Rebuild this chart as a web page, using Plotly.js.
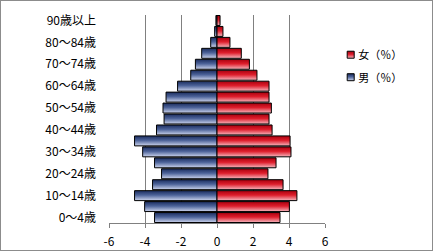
<!DOCTYPE html>
<html>
<head>
<meta charset="utf-8">
<script src="https://cdn.plot.ly/plotly-3.0.1.min.js"></script>
<style>
  html, body { margin: 0; padding: 0; background: #fff; }
  #wrap { position: relative; width: 433px; height: 252px; }
  #chart { width: 433px; height: 252px; }
  #frame { position: absolute; left: 0; top: 0; width: 433px; height: 251px; box-sizing: border-box; border: 1px solid #8c8c8c; pointer-events: none; }
</style>
</head>
<body>
<div id="wrap"><div id="chart"></div><div id="frame"></div></div>
<script>
// Age groups (bottom to top)
const ageGroups = ["0～4歳","5～9歳","10～14歳","15～19歳","20～24歳","25～29歳","30～34歳","35～39歳","40～44歳","45～49歳","50～54歳","55～59歳","60～64歳","65～69歳","70～74歳","75～79歳","80～84歳","85～89歳","90歳以上"];
// Shown y tick labels
const shownAgeLabels = ["0～4歳","10～14歳","20～24歳","30～34歳","40～44歳","50～54歳","60～64歳","70～74歳","80～84歳","90歳以上"];
// Male share (%), drawn to the left
const malePct = [3.47, 4.02, 4.58, 3.58, 3.08, 3.47, 4.13, 4.58, 3.36, 2.94, 3.00, 2.83, 2.19, 1.46, 1.20, 0.85, 0.35, 0.13, 0.06];
// Female share (%), drawn to the right
const femalePct = [3.50, 4.02, 4.44, 3.67, 2.83, 3.28, 4.11, 4.06, 3.06, 2.89, 3.02, 2.89, 2.89, 2.22, 1.80, 1.35, 0.72, 0.33, 0.17];
// X axis ticks
const xTickVals = [-6, -4, -2, 0, 2, 4, 6];
const xTickText = ["-6", "-4", "-2", "0", "2", "4", "6"];
const seriesNames = ["男（％）", "女（％）"];

const font = "'Noto Sans CJK JP', 'Noto Sans', sans-serif";

const traces = [
  {
    type: "bar", orientation: "h", name: seriesNames[0],
    y: ageGroups, x: malePct.map(v => -v),
    marker: { color: "#5a6fa3", line: { color: "#000", width: 1 } },
    hoverinfo: "skip"
  },
  {
    type: "bar", orientation: "h", name: seriesNames[1],
    y: ageGroups, x: femalePct,
    marker: { color: "#e0404c", line: { color: "#000", width: 1 } },
    hoverinfo: "skip"
  }
];

const layout = {
  width: 433, height: 252,
  margin: { l: 108.5, r: 107.7, t: 15, b: 28.7, autoexpand: false },
  paper_bgcolor: "#fff", plot_bgcolor: "#fff",
  barmode: "overlay",
  bargap: 0.09,
  showlegend: true,
  font: { family: font, size: 12, color: "#000" },
  legend: {
    x: 0.954, y: 0.9, xanchor: "left", yanchor: "top",
    traceorder: "reversed",
    font: { family: font, size: 11, color: "#000" },
    itemwidth: 30,
    bgcolor: "rgba(0,0,0,0)"
  },
  xaxis: {
    range: [-6, 6], tickmode: "array", tickvals: xTickVals, ticktext: xTickText,
    showgrid: true, gridcolor: "#808080", gridwidth: 1,
    zeroline: true, zerolinecolor: "#808080", zerolinewidth: 1,
    showline: true, linecolor: "#808080", linewidth: 1,
    ticks: "outside", ticklen: 4, tickcolor: "#808080",
    ticklabelstandoff: 4,
    tickfont: { family: font, size: 12, color: "#000" },
    fixedrange: true
  },
  yaxis: {
    type: "category", categoryorder: "array", categoryarray: ageGroups,
    tickmode: "array", tickvals: shownAgeLabels, ticktext: shownAgeLabels,
    showgrid: false, zeroline: false, showline: false, ticks: "",
    ticklabelstandoff: 12,
    tickfont: { family: font, size: 12, color: "#000" },
    fixedrange: true
  }
};

Plotly.newPlot("chart", traces, layout, { staticPlot: true, displayModeBar: false }).then(function (gd) {
  const svgNS = "http://www.w3.org/2000/svg";
  const svg = gd.querySelector("svg.main-svg");
  let defs = svg.querySelector("defs");
  if (!defs) { defs = document.createElementNS(svgNS, "defs"); svg.insertBefore(defs, svg.firstChild); }
  function addGrad(id, stops) {
    const g = document.createElementNS(svgNS, "linearGradient");
    g.setAttribute("id", id);
    g.setAttribute("x1", "0"); g.setAttribute("y1", "0");
    g.setAttribute("x2", "0"); g.setAttribute("y2", "1");
    stops.forEach(function (s) {
      const st = document.createElementNS(svgNS, "stop");
      st.setAttribute("offset", s[0]);
      st.setAttribute("stop-color", s[1]);
      g.appendChild(st);
    });
    defs.appendChild(g);
  }
  addGrad("gBlue", [["0", "#1a2c5e"], ["0.45", "#4d6399"], ["1", "#cdd5ee"]]);
  addGrad("gRed", [["0", "#a8000e"], ["0.45", "#de1e2c"], ["1", "#f6b8c0"]]);
  const barGroups = gd.querySelectorAll(".barlayer .trace");
  barGroups.forEach(function (t, i) {
    t.querySelectorAll("path").forEach(function (p) { p.style.fill = i === 0 ? "url(#gBlue)" : "url(#gRed)"; });
  });

  // Legend: small swatches placed next to the text, Excel-like spacing
  const svgRect = svg.getBoundingClientRect();
  const legend = gd.querySelector("g.legend");
  const items = Array.from(gd.querySelectorAll(".legend .traces"));
  items.forEach(function (t) {
    const txt = t.querySelector("text").textContent;
    t.querySelectorAll(".legendpoints path").forEach(function (p) {
      p.style.fill = txt.indexOf("男") >= 0 ? "url(#gBlue)" : "url(#gRed)";
      p.setAttribute("d", "M3.5,3.5H-3.5V-3.5H3.5Z");
      p.style.strokeWidth = "1px";
    });
  });
  function textBox(t) {
    const r = t.querySelector("text").getBoundingClientRect();
    return { left: r.left - svgRect.left, cy: (r.top + r.bottom) / 2 - svgRect.top };
  }
  const targets = { "女": { left: 358.3, cy: 54 }, "男": { left: 358.3, cy: 76.5 } };
  const first = items.find(t => t.querySelector("text").textContent.indexOf("女") >= 0) || items[0];
  const fb = textBox(first);
  const ldx = targets["女"].left - fb.left, ldy = targets["女"].cy - fb.cy;
  legend.setAttribute("transform", (legend.getAttribute("transform") || "") + " translate(" + ldx + "," + ldy + ")");
  items.forEach(function (t) {
    const key = t.querySelector("text").textContent.indexOf("男") >= 0 ? "男" : "女";
    const b = textBox(t);
    const dy = targets[key].cy - b.cy;
    t.setAttribute("transform", (t.getAttribute("transform") || "") + " translate(0," + dy + ")");
    const pts = t.querySelector(".legendpoints");
    const pr = pts.getBoundingClientRect();
    const pcx = (pr.left + pr.right) / 2 - svgRect.left;
    pts.setAttribute("transform", (pts.getAttribute("transform") || "") + " translate(" + (350.7 - pcx) + ",0)");
  });
  const clip = legend.querySelector(".scrollbox");
  if (clip) clip.removeAttribute("clip-path");
});
</script>
</body>
</html>
